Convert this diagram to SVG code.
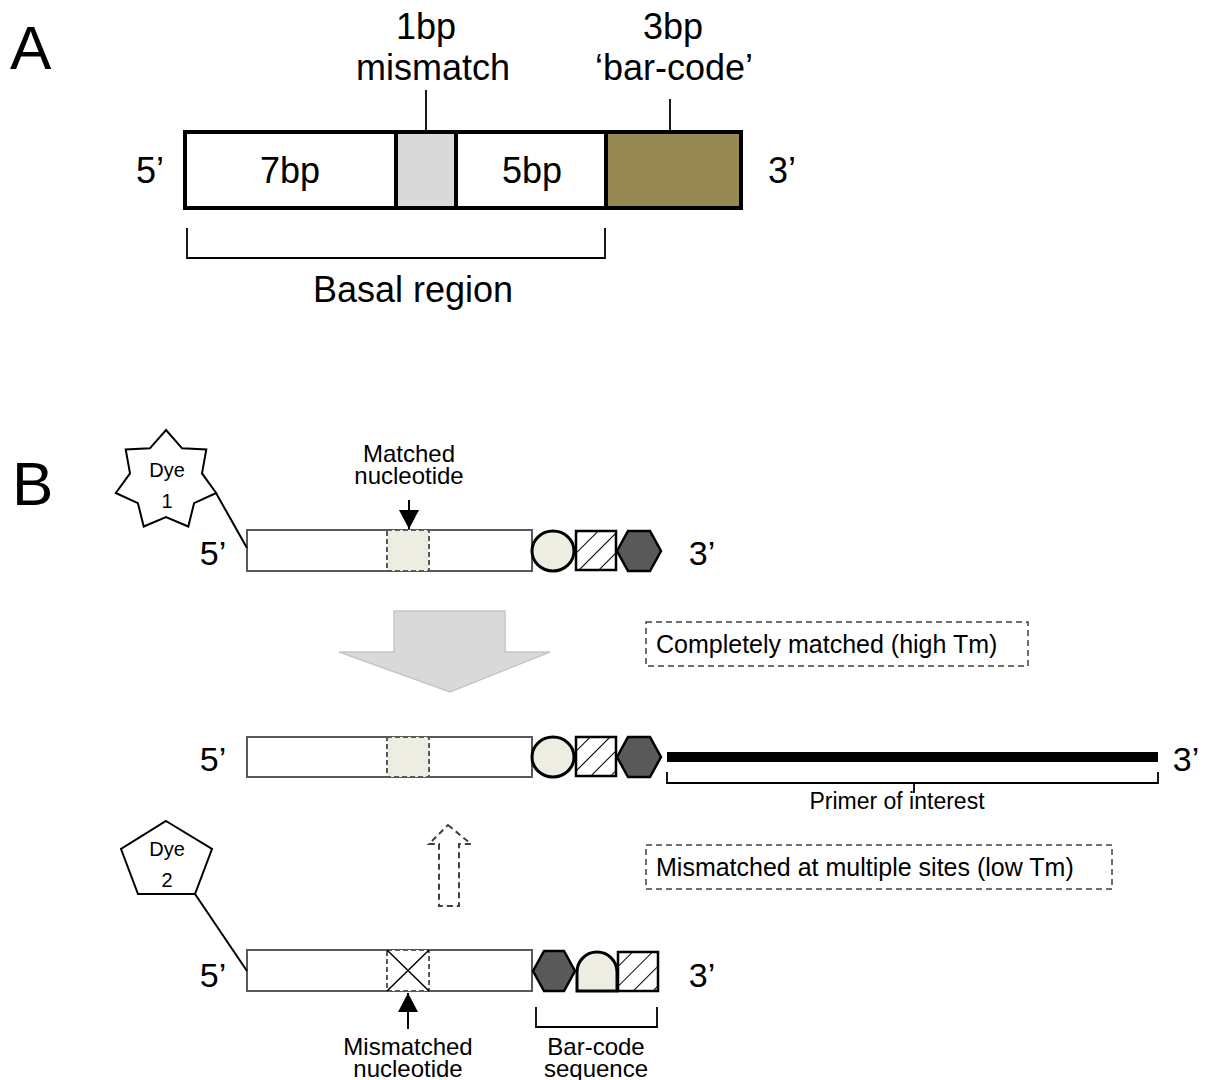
<svg xmlns="http://www.w3.org/2000/svg" width="1210" height="1080" viewBox="0 0 1210 1080">
<style>
text{font-family:"Liberation Sans",Arial,sans-serif;fill:#000}
.big{font-size:36px}
.lbl{font-size:34px}
.sm{font-size:24px}
.dye{font-size:20px}
.pr{font-size:23px}
.box{font-size:25px}
.strand{fill:#fff;stroke:#595959;stroke-width:2}
.dot{fill:#EDEDE1;stroke:#595959;stroke-width:2;stroke-dasharray:5,3}
.cream{fill:#EDEDE1;stroke:#000;stroke-width:3}
.hatch{fill:url(#hp);stroke:#000;stroke-width:2.5}
.hex{fill:#595959;stroke:#000;stroke-width:2.5}
.thin{fill:none;stroke:#000;stroke-width:1.8}
.dbox{fill:#fff;stroke:#404040;stroke-width:1.5;stroke-dasharray:6,4}
</style>
<defs>
<pattern id="hp" patternUnits="userSpaceOnUse" width="14" height="14" patternTransform="rotate(45)">
<rect width="14" height="14" fill="#fff"/>
<line x1="0" y1="0" x2="0" y2="14" stroke="#000" stroke-width="2"/>
</pattern>
<marker id="ah" viewBox="0 0 10 10" refX="10" refY="5" markerWidth="10" markerHeight="10" markerUnits="userSpaceOnUse" orient="auto">
<path d="M0,0 L10,5 L0,10 Z" fill="#000"/>
</marker>
<marker id="ah2" viewBox="0 0 19 20" refX="19" refY="10" markerWidth="19" markerHeight="20" markerUnits="userSpaceOnUse" orient="auto">
<path d="M0,0 L19,10 L0,20 Z" fill="#000"/>
</marker>
</defs>

<!-- Panel A -->
<g id="panelA">
<text x="10" y="69" style="font-size:62px">A</text>
<g id="a-7bp"><rect x="185" y="132" width="211" height="76" fill="#fff" stroke="#000" stroke-width="4"/><text class="big" x="290" y="183" text-anchor="middle">7bp</text></g>
<g id="a-mismatch"><rect x="396" y="132" width="60" height="76" fill="#D9D9D9" stroke="#000" stroke-width="4"/></g>
<g id="a-5bp"><rect x="456" y="132" width="150" height="76" fill="#fff" stroke="#000" stroke-width="4"/><text class="big" x="532" y="183" text-anchor="middle">5bp</text></g>
<g id="a-barcode"><rect x="606" y="132" width="135" height="76" fill="#958951" stroke="#000" stroke-width="4"/></g>
<text class="big" x="150" y="183" text-anchor="middle">5’</text>
<text class="big" x="782" y="183" text-anchor="middle">3’</text>
<text class="big" x="426" y="39" text-anchor="middle">1bp</text>
<text class="big" x="433" y="80" text-anchor="middle">mismatch</text>
<text class="big" x="673" y="39" text-anchor="middle">3bp</text>
<text class="big" x="674" y="80" text-anchor="middle">‘bar-code’</text>
<text class="big" x="413" y="302" text-anchor="middle">Basal region</text>
</g>
<g id="a-connectors">
<line x1="426" y1="90" x2="426" y2="131" class="thin"/>
<line x1="670" y1="99" x2="670" y2="131" class="thin"/>
<polyline points="187,228 187,258 605,258 605,228" class="thin"/>
</g>

<!-- Panel B -->
<text x="12" y="505" style="font-size:62px">B</text>

<g id="dye1">
<polygon points="166,430 182.1,448.3 206.3,449.4 202,473.4 216.2,493 194.1,503.1 188.3,526.5 166,517 143.7,526.5 137.9,503.1 115.8,493 130,473.4 125.7,449.4 149.9,448.3" fill="#fff" stroke="#000" stroke-width="2"/>
<text class="dye" x="167" y="477" text-anchor="middle">Dye</text>
<text class="dye" x="167" y="508" text-anchor="middle">1</text>
</g>

<g id="strand1">
<rect x="247" y="530" width="285" height="41" class="strand"/>
<rect x="387" y="530" width="42" height="41" class="dot"/>
<ellipse cx="553" cy="551" rx="21" ry="20" class="cream"/>
<rect x="576" y="531" width="40" height="39" class="hatch"/>
<polygon points="617,551 628,531 650,531 661,551 650,571 628,571" class="hex"/>
<text class="lbl" x="213" y="565" text-anchor="middle">5’</text>
<text class="lbl" x="702" y="565" text-anchor="middle">3’</text>
</g>
<g id="matched-label">
<text class="sm" x="409" y="462" text-anchor="middle">Matched</text>
<text class="sm" x="409" y="484" text-anchor="middle">nucleotide</text>
</g>

<g id="big-arrow">
<polygon points="394,611 505,611 505,652 550,652 450,692 339,652 394,652" fill="#D9D9D9" stroke="#C6C6C6" stroke-width="1.5"/>
</g>

<g id="box1">
<rect x="646" y="622" width="382" height="44" class="dbox"/>
<text class="box" x="656" y="653">Completely matched (high Tm)</text>
</g>

<g id="strand2">
<rect x="247" y="737" width="285" height="40" class="strand"/>
<rect x="387" y="737" width="42" height="40" class="dot"/>
<ellipse cx="553" cy="757" rx="21" ry="20" class="cream"/>
<rect x="576" y="737" width="40" height="39" class="hatch"/>
<polygon points="617,757 628,737 650,737 661,757 650,777 628,777" class="hex"/>
<line x1="667" y1="757" x2="1158" y2="757" stroke="#000" stroke-width="10"/>
<text class="lbl" x="213" y="771" text-anchor="middle">5’</text>
<text class="lbl" x="1186" y="771" text-anchor="middle">3’</text>
</g>
<g id="primer-label">
<text class="pr" x="897" y="809" text-anchor="middle">Primer of interest</text>
</g>

<g id="dashed-arrow">
<polygon points="448,825 471,844 459,844 459,906 439,906 439,844 429,844" fill="#fff" stroke="#404040" stroke-width="2" stroke-dasharray="6,4"/>
</g>

<g id="box2">
<rect x="646" y="845" width="466" height="44" class="dbox"/>
<text class="box" x="656" y="876">Mismatched at multiple sites (low Tm)</text>
</g>

<g id="dye2">
<polygon points="166,821 212,849 195,894 138,894 121,849" fill="#fff" stroke="#000" stroke-width="2"/>
<text class="dye" x="167" y="856" text-anchor="middle">Dye</text>
<text class="dye" x="167" y="887" text-anchor="middle">2</text>
</g>

<g id="strand3">
<rect x="247" y="950" width="285" height="41" class="strand"/>
<rect x="387" y="950" width="42" height="41" fill="#fff" stroke="#595959" stroke-width="2" stroke-dasharray="5,3"/>
<line x1="387" y1="950" x2="429" y2="991" stroke="#000" stroke-width="1.5"/>
<line x1="429" y1="950" x2="387" y2="991" stroke="#000" stroke-width="1.5"/>
<polygon points="533,971 544,951 564,951 575,971 564,991 544,991" class="hex"/>
<path d="M577,991 V972 A20,20 0 0 1 617,972 V991 Z" class="cream"/>
<rect x="618" y="952" width="40" height="39" class="hatch"/>
<text class="lbl" x="213" y="987" text-anchor="middle">5’</text>
<text class="lbl" x="702" y="987" text-anchor="middle">3’</text>
</g>
<g id="mismatch-label">
<text class="sm" x="408" y="1055" text-anchor="middle">Mismatched</text>
<text class="sm" x="408" y="1077" text-anchor="middle">nucleotide</text>
</g>
<g id="barcode-label">
<text class="sm" x="596" y="1055" text-anchor="middle">Bar-code</text>
<text class="sm" x="596" y="1077" text-anchor="middle">sequence</text>
</g>

<g id="connectors">
<line x1="216" y1="493" x2="247" y2="548" stroke="#000" stroke-width="2"/>
<line x1="195" y1="894" x2="247" y2="971" stroke="#000" stroke-width="2"/>
<line x1="409" y1="500" x2="409" y2="529" stroke="#000" stroke-width="2" marker-end="url(#ah2)"/>
<line x1="408" y1="1029" x2="408" y2="993" stroke="#000" stroke-width="2" marker-end="url(#ah2)"/>
<polyline points="667,772 667,783 1158,783 1158,772" class="thin"/>
<line x1="914" y1="783" x2="914" y2="793" class="thin"/>
<polyline points="536,1007 536,1027 657,1027 657,1007" class="thin"/>
</g>
</svg>
